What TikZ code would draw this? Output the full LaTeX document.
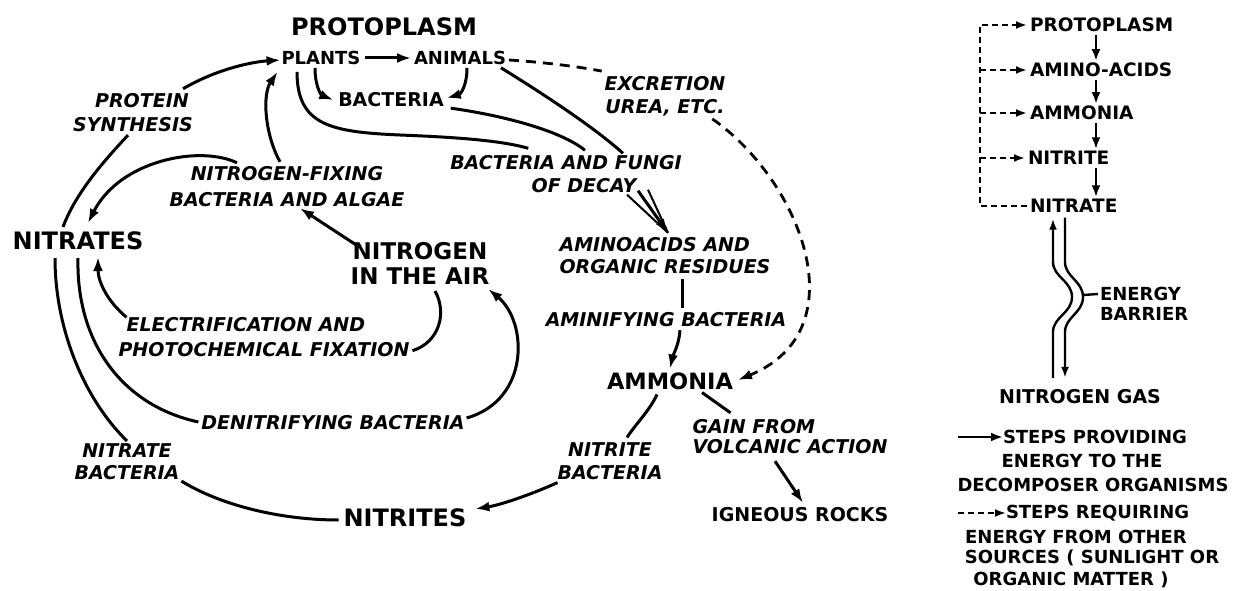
\documentclass[tikz,border=0pt]{standalone}
\usepackage{fontspec}
\setmainfont{DejaVu Sans}[BoldFont={DejaVu Sans Bold},BoldItalicFont={DejaVu Sans Bold Oblique},ItalicFont={DejaVu Sans Oblique}]
\usetikzlibrary{arrows.meta,calc}
\newcommand\fsz[2]{\fontsize{#1}{#2}\selectfont}
\begin{document}
\begin{tikzpicture}[x=1pt,y=-1pt,
  every node/.style={inner sep=0pt,outer sep=0pt},
  up/.style={font=\bfseries\fsz{#1}{24}},
  it/.style={font=\bfseries\itshape\fsz{#1}{24},align=center},
  con/.style={line width=3pt},
  arr/.style={con,-{Latex[length=14pt,width=10pt]}},
  dsh/.style={line width=2.8pt,dash pattern=on 10pt off 7pt},
  rarr/.style={line width=2.8pt,-{Latex[length=12pt,width=9pt]}},
  rdsh/.style={line width=2.2pt,dash pattern=on 6pt off 4pt},
  bar/.style={line width=2.4pt}
]
\fill[white] (0,0) rectangle (1242,591);
\useasboundingbox (0,0) rectangle (1242,591);

% ---------------- main cycle: nodes
\node[up=24] (proto) at (384,27) {PROTOPLASM};
\node[up=18] (plants) at (321,58) {PLANTS};
\node[up=18] (animals) at (460,58) {ANIMALS};
\node[up=19] (bact) at (391,100) {BACTERIA};
\node[it=19] (protein) at (133,113) {\hspace*{18pt}PROTEIN\\SYNTHESIS};
\node[it=19,font=\bfseries\itshape\fsz{19}{26}] (nfix) at (287,187) {NITROGEN-FIXING\\BACTERIA AND ALGAE};
\node[up=24] (nitrates) at (78,241) {NITRATES};
\node[up=23,align=center,font=\bfseries\fsz{23}{25}] (air) at (420,263) {NITROGEN\\IN THE AIR};
\node[it=19,align=left,font=\bfseries\itshape\fsz{19}{25}] (elec) at (264,337) {\hspace*{8pt}ELECTRIFICATION AND\\PHOTOCHEMICAL FIXATION};
\node[it=19] (denit) at (333,423) {DENITRIFYING BACTERIA};
\node[it=19,font=\bfseries\itshape\fsz{19}{22}] (nbact) at (127,462) {NITRATE\\BACTERIA};
\node[up=24] (nitrites) at (405,518) {NITRITES};
\node[it=19,font=\bfseries\itshape\fsz{19}{23}] (nitbact) at (610,461) {NITRITE\\BACTERIA};
\node[up=22.5] (ammonia) at (670,381) {AMMONIA};
\node[it=19,align=left,font=\bfseries\itshape\fsz{19}{20}] (gain) at (790,437) {GAIN FROM\\VOLCANIC ACTION};
\node[up=19] (igneous) at (800,515) {IGNEOUS ROCKS};
\node[it=19,font=\bfseries\itshape\fsz{19}{23}] (decay) at (566,174) {BACTERIA AND FUNGI\\\hspace*{36pt}OF DECAY};
\node[it=19,font=\bfseries\itshape\fsz{19}{23}] (excr) at (665,96) {EXCRETION\\UREA, ETC.};
\node[it=19,align=left,font=\bfseries\itshape\fsz{19}{22}] (amino) at (665,256) {AMINOACIDS AND\\ORGANIC RESIDUES};
\node[it=19] (aminif) at (666,320) {AMINIFYING BACTERIA};

% ---------------- main cycle: connectors
\draw[arr] ($(plants.east)+(5,0)$) -- ($(animals.west)+(-3,0)$);
\draw[arr] ($(plants.south)+(-6,3)$) .. controls (315,86) and (321,95) .. ($(bact.west)+(-5,0)$);
\draw[arr] ($(animals.south)+(7,3)$) .. controls (467,85) and (461,94) .. ($(bact.east)+(3,-2)$);
\draw[con] ($(protein.south)+(-5,3)$) .. controls (100,165) and (75,195) .. ($(nitrates.north)+(-15,-5)$);
\draw[arr] ($(protein.north)+(50,-5)$) .. controls (215,70) and (250,62) .. ($(plants.west)+(-1,2)$);
\draw[arr] ($(nfix.north)+(-7,-5)$) .. controls (265,135) and (262,95) .. ($(plants.south west)+(-4,7)$);
\draw[arr] ($(nfix.north)+(-50,-4)$) .. controls (200,145) and (120,160) .. ($(nitrates.north)+(10,-9)$);
\draw[arr] ($(air.north west)+(7,4)$) -- ($(nfix.south)+(13,1)$);
\draw[con] ($(air.south)+(15,7)$) .. controls (447,312) and (440,342) .. ($(elec.south east)+(3,-6)$);
\draw[arr] ($(elec.north west)+(8,0)$) .. controls (108,302) and (98,282) .. ($(nitrates.south)+(20,7)$);
\draw[con] ($(nitrates.south)+(0,8)$) .. controls (76,340) and (120,405) .. ($(denit.west)+(-3,-1)$);
\draw[arr] ($(denit.east)+(2,-5)$) .. controls (530,400) and (528,322) .. ($(air.south east)+(-1,5)$);
\draw[con] ($(nitrites.west)+(-5,2)$) .. controls (280,520) and (220,505) .. ($(nbact.south east)+(2,1)$);
\draw[con] ($(nbact.north)+(0,-3)$) .. controls (85,400) and (55,330) .. ($(nitrates.south)+(-23,8)$);
\draw[con] ($(ammonia.south)+(-13,5)$) .. controls (650,410) and (635,425) .. ($(nitbact.north)+(17,-5)$);
\draw[arr] ($(nitbact.south west)+(0,3)$) .. controls (530,495) and (500,505) .. ($(nitrites.north east)+(9,0)$);
\draw[con] ($(ammonia.south)+(32,3)$) -- ($(gain.north west)+(38,-7)$);
\draw[arr] ($(gain.south)+(-15,7)$) -- ($(igneous.north)+(3,-5)$);
\draw[dsh] ($(animals.east)+(3,2)$) .. controls (540,62) and (575,66) .. ($(excr.north west)+(-3,-5)$);
\draw[dsh,-{Latex[length=14pt,width=10pt]}] ($(excr.south east)+(-13,3)$) .. controls (800,180) and (860,330) .. ($(ammonia.east)+(5,-1)$);
\draw[con] ($(animals.south east)+(-5,3)$) .. controls (545,95) and (595,128) .. ($(decay.north)+(57,-2)$);
\draw[con] ($(bact.south east)+(7,1)$) .. controls (500,115) and (560,130) .. ($(decay.north)+(19,-5)$);
\draw[con] ($(plants.south)+(-24,7)$) .. controls (297,125) and (330,132) .. (400,135) .. controls (450,137) and (500,140) .. ($(decay.north west)+(78,-7)$);
\coordinate (dtip) at ($(amino.north)+(3,-5)$);
\draw[line width=2pt] ($(decay.south)+(61,2)$) -- (dtip);
\draw[line width=2pt] ($(decay.south)+(82,-3)$) -- (dtip);
\draw[arr] ($(decay.south)+(72,-2)$) -- (dtip);
\draw[con] ($(amino.south)+(17,5)$) -- ($(aminif.north)+(16,-5)$);
\draw[arr] ($(aminif.south)+(14,3)$) .. controls (679,345) and (673,355) .. ($(ammonia.north)+(0,-4)$);

% ---------------- right panel
\node[up=18.5,anchor=west] (rproto) at (1030,25) {PROTOPLASM};
\node[up=18.5,anchor=west] (ramino) at (1030,70) {AMINO-ACIDS};
\node[up=18.5,anchor=west] (rammonia) at (1030,113) {AMMONIA};
\node[up=18.5,anchor=west] (rnitrite) at (1028,158) {NITRITE};
\node[up=18.5,anchor=west] (rnitrate) at (1030,206) {NITRATE};
\node[up=19] (rgas) at (1080,397) {NITROGEN GAS};
\node[up=18,anchor=north west,align=left,font=\bfseries\fsz{18}{20}] (ebar) at (1100,287) {ENERGY\\BARRIER};

\coordinate (vx) at (1096,0);
\foreach \a/\b in {rproto/ramino,ramino/rammonia,rammonia/rnitrite,rnitrite/rnitrate}
  \draw[rarr] ($(\a.south -| vx)+(0,3)$) -- ($(\b.north -| vx)+(0,-2)$);

\coordinate (bx) at (980,0);
\draw[rdsh,-{Latex[length=11pt,width=8pt]}] ($(rnitrate.west)+(-3,0)$) -- (rnitrate.west -| bx) -- (rproto.west -| bx) -- ($(rproto.west)+(-3,0)$);
\foreach \a in {ramino,rammonia,rnitrite}
  \draw[rdsh,-{Latex[length=11pt,width=8pt]}] (\a.west -| bx) -- ($(\a.west)+(-3,0)$);

\coordinate (lx) at (1053,0);
\coordinate (rx) at (1065,0);
\draw[bar,{Latex[length=11pt,width=8pt]}-] ($(rnitrate.south -| lx)+(0,6)$) -- (1053,262) .. controls (1053,277) and (1072,281) .. (1072,297) .. controls (1072,313) and (1053,317) .. (1053,332) -- ($(rgas.north -| lx)+(0,-12)$);
\draw[bar,-{Latex[length=11pt,width=8pt]}] ($(rnitrate.south -| rx)+(0,5)$) -- (1065,262) .. controls (1065,277) and (1083,281) .. (1083,297) .. controls (1083,313) and (1065,317) .. (1065,332) -- ($(rgas.north -| rx)+(0,-12)$);
\draw[bar] (1083,295) -- ($(ebar.north west)+(-2,7)$);

% legend
\coordinate (l1) at (958,437);
\node[up=18,anchor=west] (leg1) at (1003,437) {STEPS PROVIDING};
\draw[rarr] (l1) -- (leg1.west);
\node[up=18] (leg1b) at (1082,461) {ENERGY TO THE};
\node[up=18] (leg1c) at (1093,485) {DECOMPOSER ORGANISMS};
\coordinate (l2) at (958,513);
\node[up=18,anchor=west] (leg2) at (1006,513) {STEPS REQUIRING};
\draw[rdsh,-{Latex[length=11pt,width=8pt]}] (l2) -- (leg2.west);
\node[up=18] (leg2b) at (1076,537) {ENERGY FROM OTHER};
\node[up=18] (leg2c) at (1092,558) {SOURCES ( SUNLIGHT OR};
\node[up=18] (leg2d) at (1071,580) {ORGANIC MATTER )};
\end{tikzpicture}
\end{document}
